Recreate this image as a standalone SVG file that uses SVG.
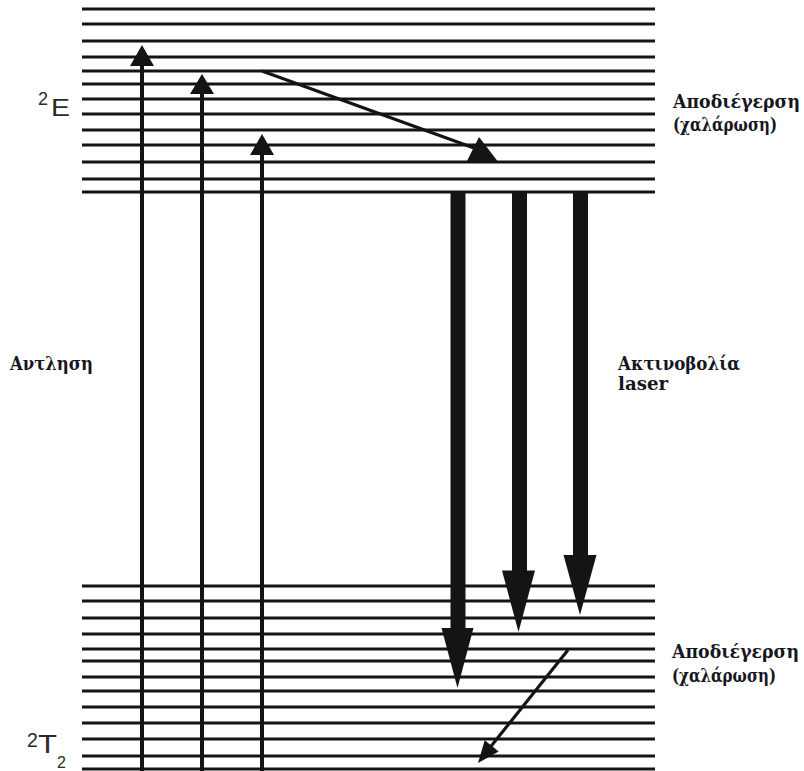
<svg xmlns="http://www.w3.org/2000/svg" width="804" height="771" viewBox="0 0 804 771">
<style>
.lvl{stroke:#141414;stroke-width:3;fill:none}
.shaft{stroke:#141414;stroke-width:4;fill:none}
.thin{stroke:#141414;stroke-width:3.2;fill:none}
.head{fill:#141414;stroke:none}
.gr{font-family:"DejaVu Serif",serif;font-weight:bold;font-size:18px;fill:#161622}
.st{font-family:"Liberation Sans",Arial,sans-serif;fill:#2a2a2a}
</style>
<rect width="804" height="771" fill="#ffffff"/>
<g id="level-2E">
<path class="lvl" d="M82 9H655M82 24H655M82 41H655M82 57H655M82 71H655M82 84H655M82 99H655M82 114H655M82 130H655M82 145H655M82 162H655M82 179H655M82 192H655"/>
</g>
<g id="level-2T2">
<path class="lvl" d="M82 586H655M82 601H655M82 618H655M82 634H655M82 649H655M82 661H655M82 677H655M82 691H655M82 707H655M82 723H655M82 739H655M82 756H655M82 769H655"/>
</g>
<g id="connectors">
<g id="pump1"><line class="shaft" x1="142" y1="771" x2="142" y2="62"/><polygon class="head" points="142,45 130,66 154,66"/></g>
<g id="pump2"><line class="shaft" x1="202" y1="771" x2="202" y2="90"/><polygon class="head" points="202,74 190,94 214,94"/></g>
<g id="pump3"><line class="shaft" x1="262" y1="771" x2="262" y2="151"/><polygon class="head" points="262,134 250,155 274,155"/></g>
<g id="relax-top"><line class="thin" x1="262" y1="71" x2="474" y2="148"/><polygon class="head" points="479,137 466,163 499,163"/></g>
<g id="laser1"><rect class="head" x="450.5" y="192" width="15" height="438"/><polygon class="head" points="441.5,628 473.5,628 457.5,688"/></g>
<g id="laser2"><rect class="head" x="512" y="192" width="15" height="381"/><polygon class="head" points="502,570.5 535,570.5 518.5,632"/></g>
<g id="laser3"><rect class="head" x="573" y="192" width="15" height="365"/><polygon class="head" points="563.5,555 596.5,555 580,615"/></g>
<g id="relax-bottom"><line class="thin" x1="568" y1="650" x2="488" y2="750"/><polygon class="head" points="478,763 484.7,740.2 498.7,751.4"/></g>
</g>
<g id="label-2E"><text class="st" font-size="18" x="38" y="105">2</text><text class="st" font-size="23" x="51" y="116" textLength="19" lengthAdjust="spacingAndGlyphs">E</text></g>
<g id="label-2T2"><text class="st" font-size="19.5" x="27" y="747">2</text><text class="st" font-size="25" x="38" y="753" textLength="19" lengthAdjust="spacingAndGlyphs">T</text><text class="st" font-size="16" x="57" y="768">2</text></g>
<g id="label-pump"><text class="gr" x="10" y="370" textLength="83" lengthAdjust="spacingAndGlyphs">Αντληση</text></g>
<g id="label-laser"><text class="gr" x="618" y="370" textLength="122" lengthAdjust="spacingAndGlyphs">Ακτινοβολία</text><text class="gr" x="618" y="390" textLength="50" lengthAdjust="spacingAndGlyphs">laser</text></g>
<g id="label-relax-top"><text class="gr" x="673" y="108" textLength="127" lengthAdjust="spacingAndGlyphs">Αποδιέγερση</text><text class="gr" x="673" y="131" textLength="104" lengthAdjust="spacingAndGlyphs">(χαλάρωση)</text></g>
<g id="label-relax-bottom"><text class="gr" x="672" y="658" textLength="127" lengthAdjust="spacingAndGlyphs">Αποδιέγερση</text><text class="gr" x="672" y="682" textLength="104" lengthAdjust="spacingAndGlyphs">(χαλάρωση)</text></g>
</svg>
